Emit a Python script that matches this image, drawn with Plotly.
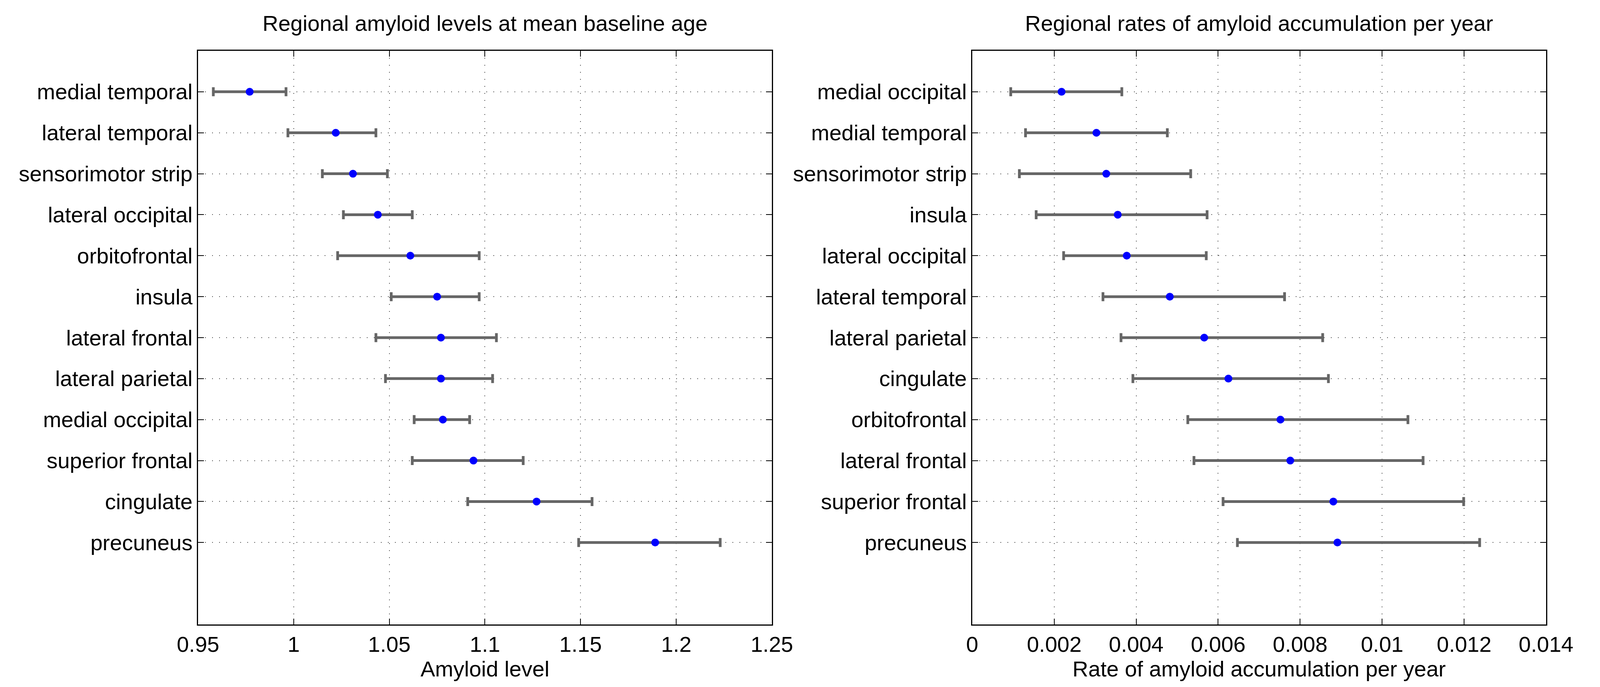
import plotly.graph_objects as go

# ---- data ----
left_regions = ["medial temporal", "lateral temporal", "sensorimotor strip", "lateral occipital",
                "orbitofrontal", "insula", "lateral frontal", "lateral parietal",
                "medial occipital", "superior frontal", "cingulate", "precuneus"]
left_mean = [0.977, 1.022, 1.031, 1.044, 1.061, 1.075, 1.077, 1.077, 1.078, 1.094, 1.127, 1.189]
left_low = [0.958, 0.997, 1.015, 1.026, 1.023, 1.051, 1.043, 1.048, 1.063, 1.062, 1.091, 1.149]
left_high = [0.996, 1.043, 1.049, 1.062, 1.097, 1.097, 1.106, 1.104, 1.092, 1.120, 1.156, 1.223]

right_regions = ["medial occipital", "medial temporal", "sensorimotor strip", "insula",
                 "lateral occipital", "lateral temporal", "lateral parietal", "cingulate",
                 "orbitofrontal", "lateral frontal", "superior frontal", "precuneus"]
right_mean = [0.00218, 0.00303, 0.00327, 0.00355, 0.00377, 0.00482, 0.00566, 0.00625,
              0.00752, 0.00776, 0.00881, 0.00891]
right_low = [0.00094, 0.00130, 0.00115, 0.00156, 0.00223, 0.00319, 0.00363, 0.00392,
             0.00526, 0.00541, 0.00612, 0.00647]
right_high = [0.00365, 0.00476, 0.00533, 0.00573, 0.00571, 0.00762, 0.00855, 0.00869,
              0.01063, 0.01100, 0.01199, 0.01238]

left_ticks = [0.95, 1.0, 1.05, 1.1, 1.15, 1.2, 1.25]
left_ticktext = ["0.95", "1", "1.05", "1.1", "1.15", "1.2", "1.25"]
right_ticks = [0, 0.002, 0.004, 0.006, 0.008, 0.01, 0.012, 0.014]
right_ticktext = ["0", "0.002", "0.004", "0.006", "0.008", "0.01", "0.012", "0.014"]

left_title = "Regional amyloid levels at mean baseline age"
right_title = "Regional rates of amyloid accumulation per year"
left_xlabel = "Amyloid level"
right_xlabel = "Rate of amyloid accumulation per year"

# ---- figure ----
# the browser viewport is capped at 4096 px wide; the layout is expressed in
# fractions of the 4490 px wide reference
REF_W = 4490
W, H = 4096, 1758
FONT = "Liberation Sans, Arial, Helvetica, sans-serif"
FS = 56
GRAY = "#666666"

fig = go.Figure()

def add_panel(regions, mean, low, high, xa, ya):
    plus = [h - m for h, m in zip(high, mean)]
    minus = [m - l for m, l in zip(mean, low)]
    fig.add_trace(go.Scatter(
        x=mean, y=regions, mode="markers", xaxis=xa, yaxis=ya,
        marker=dict(color="#0000ff", size=20, line=dict(width=0)),
        error_x=dict(type="data", symmetric=False, array=plus, arrayminus=minus,
                     color=GRAY, thickness=7, width=11.5),
        showlegend=False, hoverinfo="x+y"))

add_panel(left_regions, left_mean, left_low, left_high, "x", "y")
add_panel(right_regions, right_mean, right_low, right_high, "x2", "y2")

y0 = (H - 1598) / H
y1 = (H - 130) / H
lx = [511 / REF_W, 2172 / REF_W]
rx = [2752 / REF_W, 4413 / REF_W]

axis_common = dict(
    showline=True, linecolor="black", linewidth=2.5, mirror="ticks",
    ticks="inside", ticklen=15, tickwidth=2, tickcolor="black",
    showgrid=True, gridcolor="#444444", gridwidth=2, griddash="2px,16px",
    zeroline=False, tickfont=dict(family=FONT, size=FS, color="black"),
)

fig.update_layout(
    width=W, height=H,
    margin=dict(l=0, r=0, t=0, b=0),
    paper_bgcolor="white", plot_bgcolor="white",
    font=dict(family=FONT, size=FS, color="black"),
    xaxis=dict(axis_common, domain=lx, anchor="y", range=[0.95, 1.25],
               tickvals=left_ticks, ticktext=left_ticktext,
               title=dict(text=left_xlabel, font=dict(family=FONT, size=FS, color="black"), standoff=12)),
    yaxis=dict(axis_common, domain=[y0, y1], anchor="x", type="category",
               categoryorder="array", categoryarray=left_regions, range=[13, -1],
               ticklabelstandoff=0),
    xaxis2=dict(axis_common, domain=rx, anchor="y2", range=[0, 0.014],
                tickvals=right_ticks, ticktext=right_ticktext,
                title=dict(text=right_xlabel, font=dict(family=FONT, size=FS, color="black"), standoff=12)),
    yaxis2=dict(axis_common, domain=[y0, y1], anchor="x2", type="category",
                categoryorder="array", categoryarray=right_regions, range=[13, -1],
                ticklabelstandoff=0),
    annotations=[
        dict(text=left_title, x=(lx[0] + lx[1]) / 2, y=1 - 60 / H, xref="paper", yref="paper",
             xanchor="center", yanchor="middle", showarrow=False,
             font=dict(family=FONT, size=FS, color="black")),
        dict(text=right_title, x=(rx[0] + rx[1]) / 2, y=1 - 60 / H, xref="paper", yref="paper",
             xanchor="center", yanchor="middle", showarrow=False,
             font=dict(family=FONT, size=FS, color="black")),
    ],
)

post = "document.body.style.margin='0'; document.body.style.overflow='hidden';"
fig.write_html("out.html", post_script=post, config={"displayModeBar": False})
